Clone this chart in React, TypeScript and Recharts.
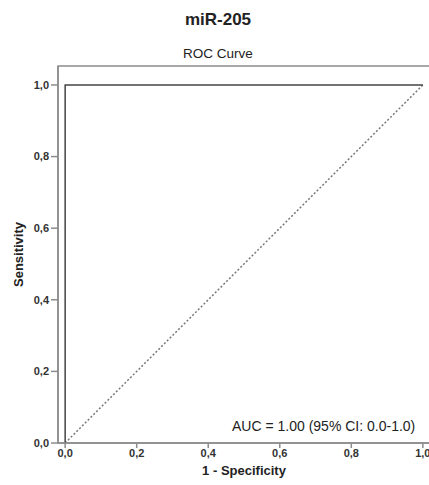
import { Label, Line, LineChart, ReferenceArea, XAxis, YAxis } from "recharts";

const rocCurve = [
  { fpr: 0.0, tpr: 0.0 },
  { fpr: 0.0, tpr: 1.0 },
  { fpr: 1.0, tpr: 1.0 },
];
const referenceLine = [
  { fpr: 0.0, tpr: 0.0 },
  { fpr: 1.0, tpr: 1.0 },
];
const axisTicks = [0, 0.2, 0.4, 0.6, 0.8, 1.0];

const chartTitle = "miR-205";
const plotTitle = "ROC Curve";
const aucText = "AUC = 1.00 (95% CI: 0.0-1.0)";

const font = "'Liberation Sans', Arial, sans-serif";
const fmt = (v: number) => v.toFixed(1).replace(".", ",");

export default function App() {
  return (
    <div
      style={{
        position: "absolute",
        left: 0,
        top: 0,
        width: 429,
        height: 485,
        overflow: "hidden",
        background: "#fff",
        fontFamily: font,
      }}
    >
      <div style={{ position: "absolute", left: 0, width: 436, top: 10, textAlign: "center", fontSize: 17, fontWeight: "bold", color: "#222" }}>
        {chartTitle}
      </div>
      <div style={{ position: "absolute", left: 0, width: 436, top: 46, textAlign: "center", fontSize: 13.5, color: "#222" }}>
        {plotTitle}
      </div>
      <LineChart width={440} height={485} margin={{ top: 66, right: 10, left: 0, bottom: 0 }}>
        <XAxis
          type="number"
          dataKey="fpr"
          domain={[-0.02, 1.02]}
          ticks={axisTicks}
          tickFormatter={fmt}
          allowDataOverflow
          height={42}
          stroke="#8c8c8c"
          strokeWidth={1.5}
          tickSize={5}
          tickMargin={1}
          tick={{ fill: "#333", fontSize: 11, fontWeight: "bold", fontFamily: font }}
        >
          <Label value="1 - Specificity" position="insideBottom" offset={10} fill="#222" fontSize={13} fontWeight="bold" fontFamily={font} />
        </XAxis>
        <YAxis
          type="number"
          dataKey="tpr"
          domain={[0, 1.053]}
          ticks={axisTicks}
          tickFormatter={fmt}
          allowDataOverflow
          width={58}
          stroke="#8c8c8c"
          strokeWidth={1.5}
          tickSize={7}
          tickMargin={2}
          tick={{ fill: "#333", fontSize: 11, fontWeight: "bold", fontFamily: font }}
        >
          <Label
            value="Sensitivity"
            angle={-90}
            position="insideLeft"
            offset={18}
            textAnchor="middle"
            fill="#222"
            fontSize={13}
            fontWeight="bold"
            fontFamily={font}
          />
        </YAxis>
        <ReferenceArea x1={-0.02} x2={1.02} y1={0} y2={1.053} fill="none" stroke="#8c8c8c" strokeWidth={1.5} />
        <Line
          data={referenceLine}
          dataKey="tpr"
          type="linear"
          stroke="#777"
          strokeWidth={1.5}
          strokeDasharray="2 2"
          dot={false}
          isAnimationActive={false}
        />
        <Line
          data={rocCurve}
          dataKey="tpr"
          type="linear"
          stroke="#444"
          strokeWidth={1.5}
          dot={false}
          isAnimationActive={false}
        />
      </LineChart>
      <div style={{ position: "absolute", left: 232, top: 418, fontSize: 14, color: "#222", whiteSpace: "nowrap" }}>
        {aucText}
      </div>
    </div>
  );
}
